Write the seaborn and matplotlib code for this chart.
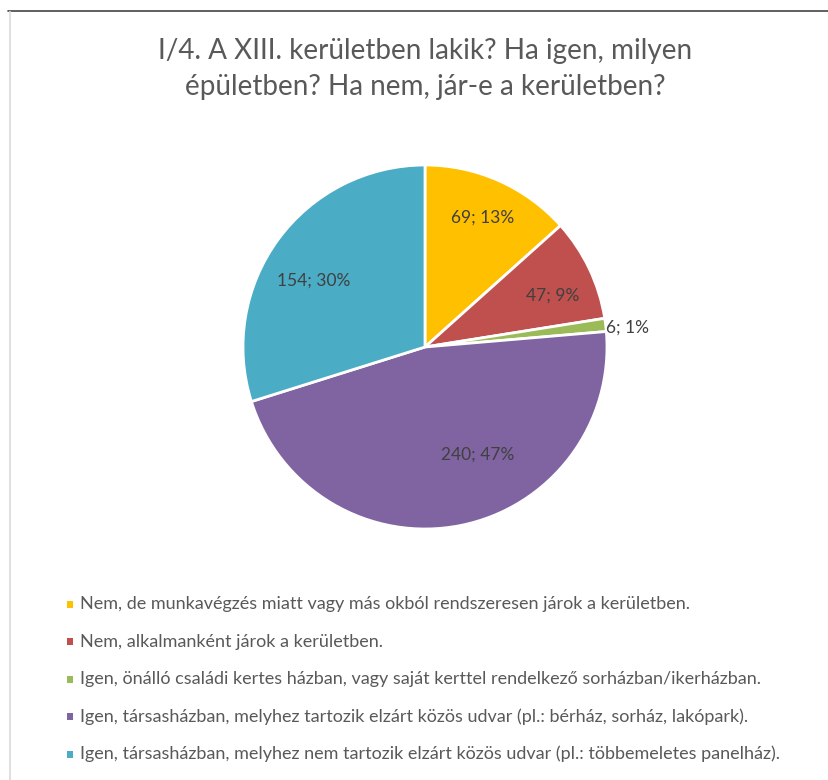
import matplotlib
matplotlib.use("Agg")
import matplotlib.pyplot as plt
import seaborn as sns
import numpy as np
from matplotlib.lines import Line2D

sns.set_theme(style="white")
plt.rcParams['font.family'] = ['Lato', 'DejaVu Sans']

title = "I/4. A XIII. kerületben lakik? Ha igen, milyen\népületben? Ha nem, jár-e a kerületben?"
categories = [
    "Nem, de munkavégzés miatt vagy más okból rendszeresen járok a kerületben.",
    "Nem, alkalmanként járok a kerületben.",
    "Igen, önálló családi kertes házban, vagy saját kerttel rendelkező sorházban/ikerházban.",
    "Igen, társasházban, melyhez tartozik elzárt közös udvar (pl.: bérház, sorház, lakópark).",
    "Igen, társasházban, melyhez nem tartozik elzárt közös udvar (pl.: többemeletes panelház).",
]
values = [69, 47, 6, 240, 154]
percents = [13, 9, 1, 47, 30]
colors = ["#FFC000", "#C0504D", "#9BBB59", "#8064A2", "#4BACC6"]

W, H = 829, 780
fig = plt.figure(figsize=(W / 100, H / 100), dpi=100)
fig.patch.set_facecolor("white")

# frame lines
fig.add_artist(Line2D([8 / W, 1], [1 - 11 / H, 1 - 11 / H], color="#444444", lw=1.2))
fig.add_artist(Line2D([10 / W, 10 / W], [0, 1 - 12 / H], color="#E0E0E0", lw=1.5))

fig.text(425 / W, 1 - 69 / H, title, ha="center", va="center", fontsize=20.1,
         color="#595959", linespacing=1.45)

cx, cy, R = 425, 347, 182
box = 200
ax = fig.add_axes([(cx - box) / W, 1 - (cy + box) / H, 2 * box / W, 2 * box / H])

labels = [f"{v}; {p}%" for v, p in zip(values, percents)]
wedges, _ = ax.pie(values, colors=colors, startangle=90, counterclock=False,
                   radius=1.0, center=(0, 0),
                   wedgeprops=dict(edgecolor="white", linewidth=2))
lim = box / R
ax.set_xlim(-lim, lim)
ax.set_ylim(-lim, lim)
ax.set_aspect("equal")
ax.axis("off")

# label placement: distance (fraction of radius) and angular offset from wedge middle
dists = [0.78, 0.755, 1.12, 0.66, 0.715]
offsets = [0.2, -3.4, -1.4, 14.7, 5.4]
total = sum(values)
ang = 90
for i, (v, lab) in enumerate(zip(values, labels)):
    mid = ang - v / total * 360 / 2
    ang -= v / total * 360
    th = np.deg2rad(mid + offsets[i])
    ax.text(dists[i] * np.cos(th), dists[i] * np.sin(th), lab, ha="center",
            va="center", fontsize=12.5, color="#404040")

# legend
y0 = 604
for i, (cat, col) in enumerate(zip(categories, colors)):
    yy = 1 - (y0 + i * 37.5) / H
    fig.patches.append(plt.Rectangle((67 / W, yy - 3.5 / H), 6 / W, 7 / H,
                                     transform=fig.transFigure, facecolor=col,
                                     edgecolor="none", figure=fig))
    fig.text(80 / W, yy, cat, ha="left", va="center", fontsize=13.0, color="#595959")

fig.savefig("out.png", dpi=100, facecolor="white")
